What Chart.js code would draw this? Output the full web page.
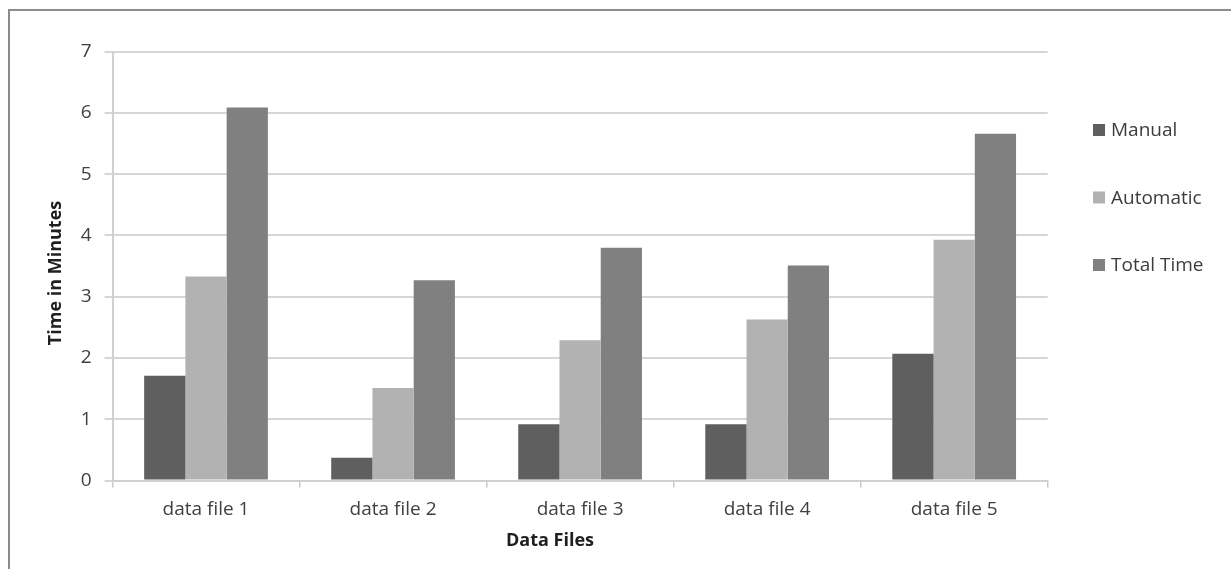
<!DOCTYPE html>
<html>
<head>
<meta charset="utf-8">
<script src="https://cdn.jsdelivr.net/npm/chart.js@4.4.1/dist/chart.umd.min.js"></script>
<style>
  html, body { margin: 0; padding: 0; background: #ffffff; overflow: hidden; }
  #frame { position: absolute; left: 8px; top: 9px; width: 1300px; height: 700px;
           border-left: 2px solid #8c8c8c; border-top: 2px solid #8c8c8c; }
  #wrap { position: absolute; left: 0; top: 0; width: 1231px; height: 569px; }
</style>
</head>
<body>
<div id="frame"></div>
<div id="wrap"><canvas id="c" width="1231" height="569"></canvas></div>
<script>
const categories = ["data file 1", "data file 2", "data file 3", "data file 4", "data file 5"];
const seriesNames = ["Manual", "Automatic", "Total Time"];
const manual = [1.71, 0.37, 0.92, 0.92, 2.07];
const automatic = [3.33, 1.51, 2.29, 2.63, 3.93];
const totalTime = [6.09, 3.27, 3.80, 3.51, 5.66];
const yTicks = [0, 1, 2, 3, 4, 5, 6, 7];
const xTitle = "Data Files";
const yTitle = "Time in Minutes";

const colors = ["#5f5f5f", "#b2b2b2", "#808080"];
const FONT = "'Open Sans', 'DejaVu Sans', sans-serif";

const titlesAndLegend = {
  id: 'titlesAndLegend',
  afterDraw(chart) {
    const ctx = chart.ctx;
    ctx.save();
    // x title
    ctx.font = "bold 18px " + FONT;
    ctx.fillStyle = "#202020";
    ctx.textAlign = "center";
    ctx.textBaseline = "middle";
    ctx.fillText(xTitle, 550, 541);
    // y title
    ctx.save();
    ctx.translate(56, 273);
    ctx.rotate(-Math.PI / 2);
    ctx.fillText(yTitle, 0, 0);
    ctx.restore();
    // legend
    const ys = [130, 197.5, 265];
    ctx.font = "19px " + FONT;
    ctx.textAlign = "left";
    chart.data.datasets.forEach((ds, i) => {
      ctx.fillStyle = ds.backgroundColor;
      ctx.fillRect(1093, ys[i] - 6, 12, 12);
      ctx.fillStyle = "#3c3c3c";
      ctx.fillText(ds.label, 1111, ys[i] + 1);
    });
    ctx.restore();
  }
};

new Chart(document.getElementById('c'), {
  type: 'bar',
  data: {
    labels: categories,
    datasets: [
      { label: seriesNames[0], data: manual, backgroundColor: colors[0] },
      { label: seriesNames[1], data: automatic, backgroundColor: colors[1] },
      { label: seriesNames[2], data: totalTime, backgroundColor: colors[2] }
    ]
  },
  options: {
    responsive: false,
    animation: false,
    devicePixelRatio: 1,
    layout: { padding: { left: 0, right: 183.3, top: 51.7, bottom: 0 } },
    datasets: { bar: { categoryPercentage: 0.6615, barPercentage: 1.0, borderWidth: 0 } },
    plugins: { legend: { display: false }, tooltip: { enabled: false } },
    scales: {
      x: {
        afterFit(scale) { scale.height = 88.5; },
        grid: { offset: true, drawOnChartArea: false, drawTicks: true, tickLength: 7, color: '#c8c8c8', lineWidth: 1.5 },
        border: { display: true, color: '#d0d0d0', width: 2 },
        ticks: { color: '#404040', font: { family: FONT, size: 19 }, padding: 11 }
      },
      y: {
        min: 0, max: 7,
        afterFit(scale) { scale.width = 112.5; },
        afterBuildTicks(scale) { scale.ticks = yTicks.map(v => ({ value: v })); },
        grid: { color: '#d6d6d6', lineWidth: 2, tickLength: 8 },
        border: { display: true, color: '#d0d0d0', width: 2 },
        ticks: { color: '#404040', font: { family: FONT, size: 19 }, padding: 13 }
      }
    }
  },
  plugins: [titlesAndLegend]
});
</script>
</body>
</html>
